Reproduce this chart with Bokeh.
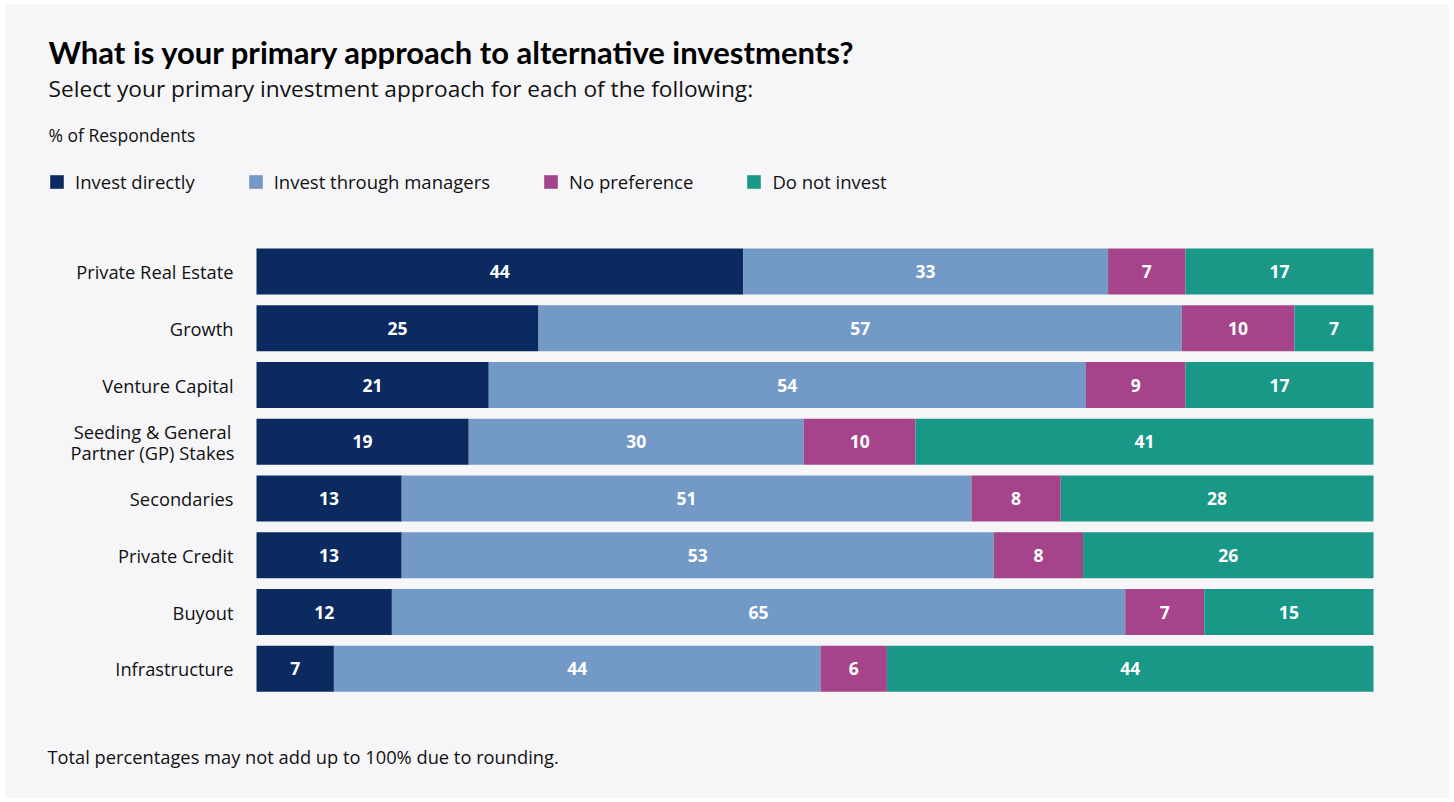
from bokeh.plotting import figure
from bokeh.models import Range1d, Label, Legend, LegendItem, ColumnDataSource
from bokeh.core.properties import value
from bokeh.embed import file_html
from bokeh.resources import INLINE

categories = ["Private Real Estate", "Growth", "Venture Capital",
              "Seeding & General\nPartner (GP) Stakes", "Secondaries",
              "Private Credit", "Buyout", "Infrastructure"]
invest_directly = [44, 25, 21, 19, 13, 13, 12, 7]
through_managers = [33, 57, 54, 30, 51, 53, 65, 44]
no_preference = [7, 10, 9, 10, 8, 8, 7, 6]
do_not_invest = [17, 7, 17, 41, 28, 26, 15, 44]

series_names = ["Invest directly", "Invest through managers", "No preference", "Do not invest"]
series_values = [invest_directly, through_managers, no_preference, do_not_invest]
colors = ["#0b2b60", "#7399c6", "#a5448a", "#199787"]

FONT = "Open Sans"
TFONT = "Lato"
BG = "#f6f6f8"
W, H = 1444, 794
OX, OY = 5, 4            # figure origin in page pixels
BAR_L, BAR_R = 256, 1373  # plot area in page pixels
ROW0, PITCH = 271, 56.75  # first row centre, row pitch (page pixels)

span = (BAR_R - BAR_L) / 100.0
x_range = Range1d((OX - BAR_L) / span, 100 + (OX + W - BAR_R) / span)
y_range = Range1d((OY + H - ROW0) / PITCH, (OY - ROW0) / PITCH)  # flipped: row 0 on top

p = figure(width=W, height=H, output_backend="svg", toolbar_location=None,
           x_range=x_range, y_range=y_range,
           min_border=0, background_fill_color=BG, border_fill_color=BG,
           outline_line_color=None)
p.margin = (OY, 0, 0, OX)
p.grid.visible = False
p.axis.visible = False

rows = list(range(len(categories)))
totals = [sum(v) for v in zip(*series_values)]
lefts = [0.0] * len(categories)
renderers = []
for name, vals, col in zip(series_names, series_values, colors):
    norm = [100.0 * v / t for v, t in zip(vals, totals)]
    rights = [l + n for l, n in zip(lefts, norm)]
    src = ColumnDataSource(dict(y=rows, left=lefts, right=rights,
                                mid=[(l + r) / 2 for l, r in zip(lefts, rights)],
                                lab=[str(v) for v in vals]))
    r = p.hbar(y="y", left="left", right="right", height=0.81, source=src,
               fill_color=col, line_color=None)
    renderers.append(r)
    p.text(x="mid", y="y", text="lab", source=src, text_color="white",
           text_font=value(FONT), text_font_style="bold", text_font_size="17.5px",
           text_align="center", text_baseline="middle")
    lefts = rights

# category labels, just left of the bars
single = [i for i, c in enumerate(categories) if "\n" not in c]
multi = [i for i, c in enumerate(categories) if "\n" in c]
cat_src = ColumnDataSource(dict(y=single, x=[0] * len(single), t=[categories[i] for i in single]))
p.text(x="x", y="y", text="t", source=cat_src, x_offset=-23,
       text_font=value(FONT), text_font_size="18.3px", text_color="#111111",
       text_align="right", text_baseline="middle")
multi_src = ColumnDataSource(dict(y=multi, x=[0] * len(multi), t=[categories[i] for i in multi]))
p.text(x="x", y="y", text="t", source=multi_src, x_offset=-104,
       text_font=value(FONT), text_font_size="18.3px", text_color="#111111",
       text_align="center", text_baseline="middle", text_line_height=0.85)

def lab(text, x, y_base, size, style="normal", color="#111111", font=FONT):
    p.add_layout(Label(x=x - OX, y=OY + H - y_base, x_units="screen", y_units="screen",
                       text=text, text_font=font, text_font_size=size,
                       text_font_style=style, text_color=color,
                       text_baseline="alphabetic"))

lab("What is your primary approach to alternative investments?", 48, 51, "31px", "bold", "#000000", TFONT)
lab("Select your primary investment approach for each of the following:", 48, 88, "22.7px")
lab("% of Respondents", 48, 134, "17.5px")
lab("Total percentages may not add up to 100% due to rounding.", 47, 756, "18.3px")

legend = Legend(items=[LegendItem(label=n, renderers=[r]) for n, r in zip(series_names, renderers)],
                orientation="horizontal", location=(48 - OX, OY + H - 194),
                glyph_width=17, glyph_height=17, label_height=17, label_standoff=10, spacing=52,
                padding=0, margin=0, background_fill_alpha=0, border_line_color=None,
                label_text_font=FONT, label_text_font_size="18.5px", label_text_color="#111111")
p.add_layout(legend, "center")

open("out.html", "w").write(file_html(p, INLINE))
